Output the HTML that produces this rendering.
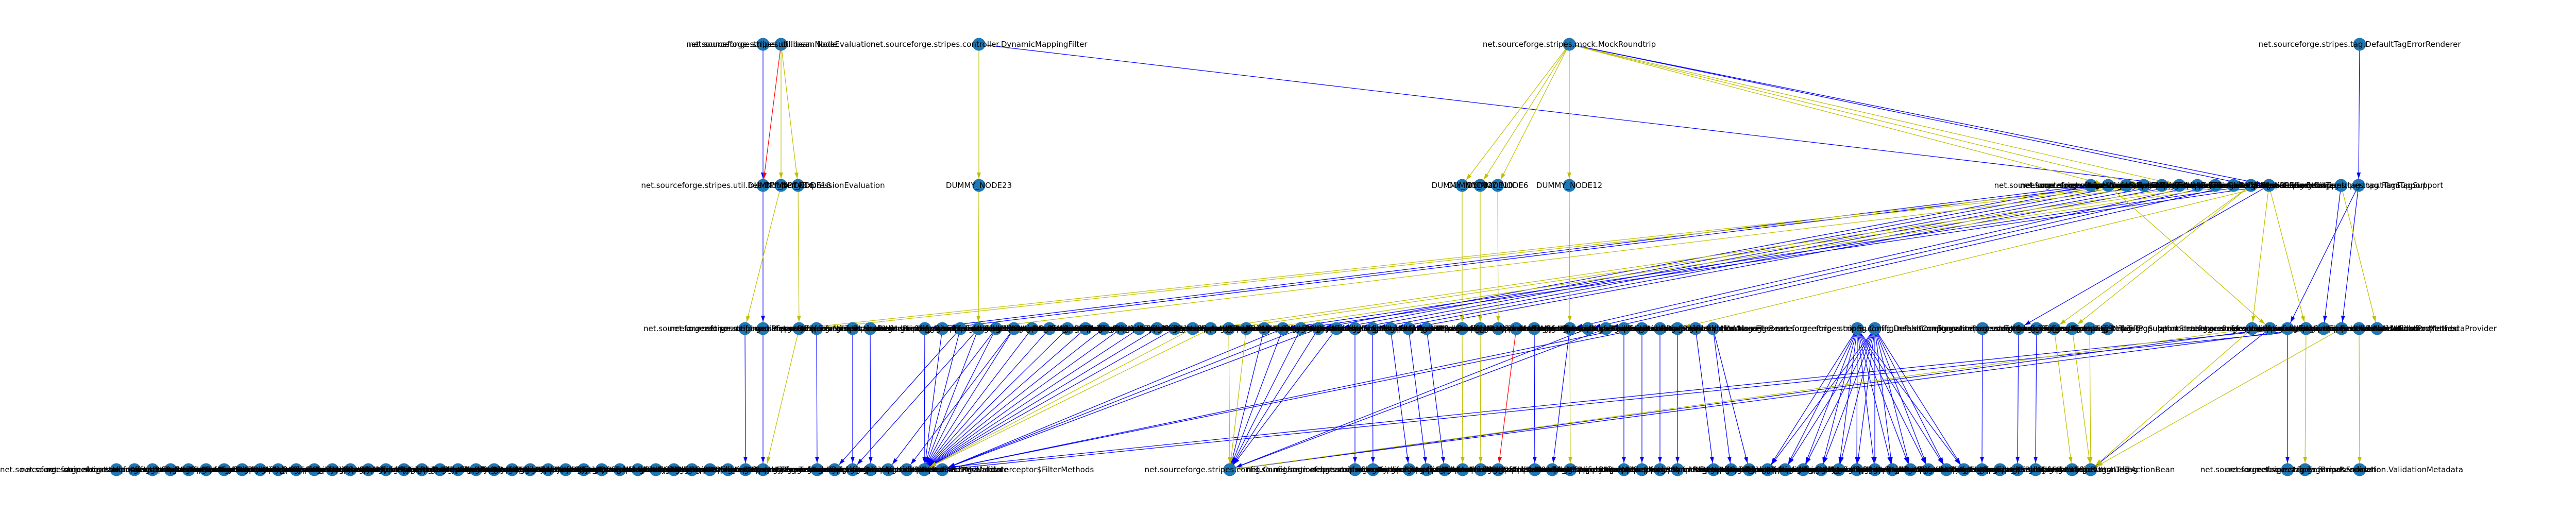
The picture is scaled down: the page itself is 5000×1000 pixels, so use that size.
<!DOCTYPE html>
<html><head><meta charset="utf-8"><style>
html,body{margin:0;padding:0;background:#fff;}
svg{display:block;}
text{font-family:"DejaVu Sans","Liberation Sans",sans-serif;font-size:15px;fill:#000;text-anchor:middle;dominant-baseline:central;}
</style></head><body>
<svg width="5000" height="1000" viewBox="0 0 5000 1000" xmlns="http://www.w3.org/2000/svg">
<defs>
<marker id="ab" markerUnits="userSpaceOnUse" markerWidth="30" markerHeight="12" refX="25" refY="4" orient="auto"><path d="M0,0 L12,4 L0,8 z" fill="#0000ff"/></marker>
<marker id="ay" markerUnits="userSpaceOnUse" markerWidth="30" markerHeight="12" refX="25" refY="4" orient="auto"><path d="M0,0 L12,4 L0,8 z" fill="#bfbf00"/></marker>
<marker id="ar" markerUnits="userSpaceOnUse" markerWidth="30" markerHeight="12" refX="25" refY="4" orient="auto"><path d="M0,0 L12,4 L0,8 z" fill="#ff0000"/></marker>
</defs>
<g stroke="#0000ff" stroke-width="1.2" marker-end="url(#ab)">
<line x1="1481" y1="86" x2="1481" y2="360"/>
<line x1="1900" y1="86" x2="4230" y2="360"/>
<line x1="3046" y1="86" x2="4369" y2="360"/>
<line x1="3046" y1="86" x2="4404" y2="360"/>
<line x1="4580" y1="86" x2="4578" y2="360"/>
<line x1="1481" y1="360" x2="1481" y2="638"/>
<line x1="4369" y1="360" x2="2490" y2="638"/>
<line x1="4404" y1="360" x2="2525" y2="638"/>
<line x1="4058" y1="360" x2="2559" y2="638"/>
<line x1="4092" y1="360" x2="2594" y2="638"/>
<line x1="4127" y1="360" x2="2630" y2="638"/>
<line x1="4161" y1="360" x2="2664" y2="638"/>
<line x1="4196" y1="360" x2="2699" y2="638"/>
<line x1="4230" y1="360" x2="2734" y2="638"/>
<line x1="4265" y1="360" x2="3047" y2="638"/>
<line x1="4300" y1="360" x2="3082" y2="638"/>
<line x1="4335" y1="360" x2="3117" y2="638"/>
<line x1="4404" y1="360" x2="3918" y2="638"/>
<line x1="4578" y1="360" x2="4545" y2="638"/>
<line x1="4578" y1="360" x2="4440" y2="638"/>
<line x1="4544" y1="360" x2="4510" y2="638"/>
<line x1="4058" y1="360" x2="1795" y2="638"/>
<line x1="4092" y1="360" x2="1829" y2="638"/>
<line x1="1446" y1="638" x2="1447" y2="912"/>
<line x1="1481" y1="638" x2="1481" y2="912"/>
<line x1="1585" y1="638" x2="1586" y2="912"/>
<line x1="1655" y1="638" x2="1655" y2="912"/>
<line x1="1689" y1="638" x2="1690" y2="912"/>
<line x1="1795" y1="638" x2="1794" y2="912"/>
<line x1="1864" y1="638" x2="1620" y2="912"/>
<line x1="1899" y1="638" x2="1655" y2="912"/>
<line x1="1829" y1="638" x2="1794" y2="912"/>
<line x1="1864" y1="638" x2="1794" y2="912"/>
<line x1="1899" y1="638" x2="1794" y2="912"/>
<line x1="1933" y1="638" x2="1794" y2="912"/>
<line x1="1968" y1="638" x2="1794" y2="912"/>
<line x1="2003" y1="638" x2="1794" y2="912"/>
<line x1="2037" y1="638" x2="1794" y2="912"/>
<line x1="2072" y1="638" x2="1794" y2="912"/>
<line x1="2107" y1="638" x2="1794" y2="912"/>
<line x1="2142" y1="638" x2="1794" y2="912"/>
<line x1="2176" y1="638" x2="1794" y2="912"/>
<line x1="2211" y1="638" x2="1794" y2="912"/>
<line x1="2246" y1="638" x2="1794" y2="912"/>
<line x1="2280" y1="638" x2="1794" y2="912"/>
<line x1="1933" y1="638" x2="1724" y2="912"/>
<line x1="1968" y1="638" x2="1760" y2="912"/>
<line x1="2490" y1="638" x2="1829" y2="912"/>
<line x1="2525" y1="638" x2="1829" y2="912"/>
<line x1="2559" y1="638" x2="1829" y2="912"/>
<line x1="2454" y1="638" x2="2387" y2="912"/>
<line x1="2490" y1="638" x2="2387" y2="912"/>
<line x1="2525" y1="638" x2="2387" y2="912"/>
<line x1="2559" y1="638" x2="2387" y2="912"/>
<line x1="2594" y1="638" x2="2387" y2="912"/>
<line x1="3082" y1="638" x2="2387" y2="912"/>
<line x1="3117" y1="638" x2="2387" y2="912"/>
<line x1="3152" y1="638" x2="1829" y2="912"/>
<line x1="3187" y1="638" x2="1829" y2="912"/>
<line x1="2630" y1="638" x2="2630" y2="912"/>
<line x1="2664" y1="638" x2="2665" y2="912"/>
<line x1="2699" y1="638" x2="2735" y2="912"/>
<line x1="2734" y1="638" x2="2769" y2="912"/>
<line x1="2769" y1="638" x2="2804" y2="912"/>
<line x1="2978" y1="638" x2="2979" y2="912"/>
<line x1="3047" y1="638" x2="3013" y2="912"/>
<line x1="3152" y1="638" x2="3152" y2="912"/>
<line x1="3187" y1="638" x2="3187" y2="912"/>
<line x1="3222" y1="638" x2="3222" y2="912"/>
<line x1="3256" y1="638" x2="3256" y2="912"/>
<line x1="3291" y1="638" x2="3326" y2="912"/>
<line x1="3325" y1="638" x2="3360" y2="912"/>
<line x1="3325" y1="638" x2="3395" y2="912"/>
<line x1="3605" y1="638" x2="3431" y2="912"/><line x1="3605" y1="638" x2="3465" y2="912"/><line x1="3605" y1="638" x2="3500" y2="912"/><line x1="3605" y1="638" x2="3535" y2="912"/><line x1="3605" y1="638" x2="3569" y2="912"/><line x1="3605" y1="638" x2="3604" y2="912"/><line x1="3605" y1="638" x2="3639" y2="912"/><line x1="3605" y1="638" x2="3673" y2="912"/><line x1="3605" y1="638" x2="3708" y2="912"/><line x1="3605" y1="638" x2="3743" y2="912"/><line x1="3605" y1="638" x2="3778" y2="912"/><line x1="3605" y1="638" x2="3812" y2="912"/>
<line x1="3639" y1="638" x2="3431" y2="912"/><line x1="3639" y1="638" x2="3465" y2="912"/><line x1="3639" y1="638" x2="3500" y2="912"/><line x1="3639" y1="638" x2="3535" y2="912"/><line x1="3639" y1="638" x2="3569" y2="912"/><line x1="3639" y1="638" x2="3604" y2="912"/><line x1="3639" y1="638" x2="3639" y2="912"/><line x1="3639" y1="638" x2="3673" y2="912"/><line x1="3639" y1="638" x2="3708" y2="912"/><line x1="3639" y1="638" x2="3743" y2="912"/><line x1="3639" y1="638" x2="3778" y2="912"/><line x1="3639" y1="638" x2="3812" y2="912"/>
<line x1="3848" y1="638" x2="3847" y2="912"/>
<line x1="3918" y1="638" x2="3916" y2="912"/>
<line x1="3953" y1="638" x2="3951" y2="912"/>
<line x1="4406" y1="638" x2="4058" y2="912"/>
<line x1="4440" y1="638" x2="4440" y2="912"/>
<line x1="4406" y1="638" x2="2387" y2="912"/>
<line x1="4476" y1="638" x2="2387" y2="912"/>
<line x1="4510" y1="638" x2="1829" y2="912"/>
<line x1="4440" y1="638" x2="1794" y2="912"/>
</g>
<g stroke="#bfbf00" stroke-width="1.2" marker-end="url(#ay)">
<line x1="1516" y1="86" x2="1516" y2="360"/>
<line x1="1516" y1="86" x2="1549" y2="360"/>
<line x1="1900" y1="86" x2="1900" y2="360"/>
<line x1="3046" y1="86" x2="2838" y2="360"/>
<line x1="3046" y1="86" x2="2873" y2="360"/>
<line x1="3046" y1="86" x2="2907" y2="360"/>
<line x1="3046" y1="86" x2="3046" y2="360"/>
<line x1="3046" y1="86" x2="4092" y2="360"/>
<line x1="3046" y1="86" x2="4161" y2="360"/>
<line x1="3046" y1="86" x2="4230" y2="360"/>
<line x1="1516" y1="360" x2="1446" y2="638"/>
<line x1="1549" y1="360" x2="1551" y2="638"/>
<line x1="1900" y1="360" x2="1899" y2="638"/>
<line x1="2838" y1="360" x2="2838" y2="638"/>
<line x1="2873" y1="360" x2="2873" y2="638"/>
<line x1="2907" y1="360" x2="2908" y2="638"/>
<line x1="3046" y1="360" x2="3047" y2="638"/>
<line x1="4127" y1="360" x2="1551" y2="638"/>
<line x1="4161" y1="360" x2="1585" y2="638"/>
<line x1="4196" y1="360" x2="1899" y2="638"/>
<line x1="4265" y1="360" x2="2350" y2="638"/>
<line x1="4300" y1="360" x2="2385" y2="638"/>
<line x1="4335" y1="360" x2="2454" y2="638"/>
<line x1="4404" y1="360" x2="3256" y2="638"/>
<line x1="4369" y1="360" x2="3987" y2="638"/>
<line x1="4369" y1="360" x2="4022" y2="638"/>
<line x1="4404" y1="360" x2="4371" y2="638"/>
<line x1="4404" y1="360" x2="4476" y2="638"/>
<line x1="4544" y1="360" x2="4614" y2="638"/>
<line x1="4092" y1="360" x2="4406" y2="638"/>
<line x1="1551" y1="638" x2="1486" y2="912"/>
<line x1="2315" y1="638" x2="1794" y2="912"/>
<line x1="2350" y1="638" x2="1794" y2="912"/>
<line x1="2385" y1="638" x2="2387" y2="912"/>
<line x1="2419" y1="638" x2="2387" y2="912"/>
<line x1="2838" y1="638" x2="2839" y2="912"/>
<line x1="2873" y1="638" x2="2874" y2="912"/>
<line x1="3047" y1="638" x2="3048" y2="912"/>
<line x1="3987" y1="638" x2="4022" y2="912"/>
<line x1="4022" y1="638" x2="4058" y2="912"/>
<line x1="4056" y1="638" x2="4058" y2="912"/>
<line x1="4371" y1="638" x2="4058" y2="912"/>
<line x1="4476" y1="638" x2="4474" y2="912"/>
<line x1="4579" y1="638" x2="4580" y2="912"/>
<line x1="4545" y1="638" x2="4058" y2="912"/>
<line x1="4371" y1="638" x2="2387" y2="912"/>
</g>
<g stroke="#ff0000" stroke-width="1.2" marker-end="url(#ar)">
<line x1="1516" y1="86" x2="1481" y2="360"/>
<line x1="2943" y1="638" x2="2908" y2="912"/>
</g>
<g fill="#1f77b4">
<circle cx="1481" cy="86" r="12.5"/><circle cx="1516" cy="86" r="12.5"/><circle cx="1900" cy="86" r="12.5"/><circle cx="3046" cy="86" r="12.5"/><circle cx="4580" cy="86" r="12.5"/>
<circle cx="1481" cy="360" r="12.5"/><circle cx="1516" cy="360" r="12.5"/><circle cx="1549" cy="360" r="12.5"/><circle cx="1900" cy="360" r="12.5"/><circle cx="2838" cy="360" r="12.5"/><circle cx="2873" cy="360" r="12.5"/><circle cx="2907" cy="360" r="12.5"/><circle cx="3046" cy="360" r="12.5"/>
<circle cx="4058" cy="360" r="12.5"/><circle cx="4092" cy="360" r="12.5"/><circle cx="4127" cy="360" r="12.5"/><circle cx="4161" cy="360" r="12.5"/><circle cx="4196" cy="360" r="12.5"/><circle cx="4230" cy="360" r="12.5"/><circle cx="4265" cy="360" r="12.5"/><circle cx="4300" cy="360" r="12.5"/><circle cx="4335" cy="360" r="12.5"/><circle cx="4369" cy="360" r="12.5"/><circle cx="4404" cy="360" r="12.5"/><circle cx="4544" cy="360" r="12.5"/><circle cx="4578" cy="360" r="12.5"/>
<circle cx="1446" cy="638" r="12.5"/><circle cx="1481" cy="638" r="12.5"/><circle cx="1551" cy="638" r="12.5"/><circle cx="1585" cy="638" r="12.5"/><circle cx="1655" cy="638" r="12.5"/><circle cx="1689" cy="638" r="12.5"/><circle cx="1795" cy="638" r="12.5"/><circle cx="1829" cy="638" r="12.5"/><circle cx="1864" cy="638" r="12.5"/><circle cx="1899" cy="638" r="12.5"/><circle cx="1933" cy="638" r="12.5"/><circle cx="1968" cy="638" r="12.5"/><circle cx="2003" cy="638" r="12.5"/><circle cx="2037" cy="638" r="12.5"/><circle cx="2072" cy="638" r="12.5"/><circle cx="2107" cy="638" r="12.5"/><circle cx="2142" cy="638" r="12.5"/><circle cx="2176" cy="638" r="12.5"/><circle cx="2211" cy="638" r="12.5"/><circle cx="2246" cy="638" r="12.5"/><circle cx="2280" cy="638" r="12.5"/><circle cx="2315" cy="638" r="12.5"/><circle cx="2350" cy="638" r="12.5"/><circle cx="2385" cy="638" r="12.5"/><circle cx="2419" cy="638" r="12.5"/><circle cx="2454" cy="638" r="12.5"/><circle cx="2490" cy="638" r="12.5"/><circle cx="2525" cy="638" r="12.5"/><circle cx="2559" cy="638" r="12.5"/><circle cx="2594" cy="638" r="12.5"/><circle cx="2630" cy="638" r="12.5"/><circle cx="2664" cy="638" r="12.5"/><circle cx="2699" cy="638" r="12.5"/><circle cx="2734" cy="638" r="12.5"/><circle cx="2769" cy="638" r="12.5"/><circle cx="2838" cy="638" r="12.5"/><circle cx="2873" cy="638" r="12.5"/><circle cx="2908" cy="638" r="12.5"/><circle cx="2943" cy="638" r="12.5"/><circle cx="2978" cy="638" r="12.5"/>
<circle cx="3047" cy="638" r="12.5"/><circle cx="3082" cy="638" r="12.5"/><circle cx="3117" cy="638" r="12.5"/><circle cx="3152" cy="638" r="12.5"/><circle cx="3187" cy="638" r="12.5"/><circle cx="3222" cy="638" r="12.5"/><circle cx="3256" cy="638" r="12.5"/><circle cx="3291" cy="638" r="12.5"/><circle cx="3325" cy="638" r="12.5"/><circle cx="3605" cy="638" r="12.5"/><circle cx="3639" cy="638" r="12.5"/><circle cx="3848" cy="638" r="12.5"/><circle cx="3918" cy="638" r="12.5"/><circle cx="3953" cy="638" r="12.5"/><circle cx="3987" cy="638" r="12.5"/><circle cx="4022" cy="638" r="12.5"/><circle cx="4056" cy="638" r="12.5"/><circle cx="4091" cy="638" r="12.5"/><circle cx="4371" cy="638" r="12.5"/><circle cx="4406" cy="638" r="12.5"/><circle cx="4440" cy="638" r="12.5"/><circle cx="4476" cy="638" r="12.5"/><circle cx="4510" cy="638" r="12.5"/><circle cx="4545" cy="638" r="12.5"/><circle cx="4579" cy="638" r="12.5"/><circle cx="4614" cy="638" r="12.5"/>
<circle cx="226" cy="912" r="12.5"/><circle cx="261" cy="912" r="12.5"/><circle cx="296" cy="912" r="12.5"/><circle cx="331" cy="912" r="12.5"/><circle cx="366" cy="912" r="12.5"/><circle cx="400" cy="912" r="12.5"/><circle cx="435" cy="912" r="12.5"/><circle cx="470" cy="912" r="12.5"/><circle cx="505" cy="912" r="12.5"/><circle cx="540" cy="912" r="12.5"/><circle cx="575" cy="912" r="12.5"/><circle cx="610" cy="912" r="12.5"/><circle cx="645" cy="912" r="12.5"/><circle cx="680" cy="912" r="12.5"/><circle cx="715" cy="912" r="12.5"/><circle cx="749" cy="912" r="12.5"/><circle cx="784" cy="912" r="12.5"/><circle cx="819" cy="912" r="12.5"/><circle cx="854" cy="912" r="12.5"/><circle cx="889" cy="912" r="12.5"/><circle cx="924" cy="912" r="12.5"/><circle cx="959" cy="912" r="12.5"/><circle cx="994" cy="912" r="12.5"/><circle cx="1029" cy="912" r="12.5"/><circle cx="1064" cy="912" r="12.5"/><circle cx="1098" cy="912" r="12.5"/><circle cx="1133" cy="912" r="12.5"/><circle cx="1168" cy="912" r="12.5"/><circle cx="1203" cy="912" r="12.5"/><circle cx="1238" cy="912" r="12.5"/><circle cx="1273" cy="912" r="12.5"/><circle cx="1308" cy="912" r="12.5"/><circle cx="1343" cy="912" r="12.5"/><circle cx="1378" cy="912" r="12.5"/><circle cx="1413" cy="912" r="12.5"/><circle cx="1447" cy="912" r="12.5"/><circle cx="1481" cy="912" r="12.5"/>
<circle cx="1586" cy="912" r="12.5"/><circle cx="1620" cy="912" r="12.5"/><circle cx="1655" cy="912" r="12.5"/><circle cx="1690" cy="912" r="12.5"/><circle cx="1724" cy="912" r="12.5"/><circle cx="1760" cy="912" r="12.5"/><circle cx="1794" cy="912" r="12.5"/><circle cx="1829" cy="912" r="12.5"/><circle cx="2387" cy="912" r="12.5"/><circle cx="2630" cy="912" r="12.5"/><circle cx="2665" cy="912" r="12.5"/><circle cx="2735" cy="912" r="12.5"/><circle cx="2769" cy="912" r="12.5"/><circle cx="2804" cy="912" r="12.5"/><circle cx="2839" cy="912" r="12.5"/><circle cx="2874" cy="912" r="12.5"/><circle cx="2908" cy="912" r="12.5"/><circle cx="2979" cy="912" r="12.5"/><circle cx="3013" cy="912" r="12.5"/><circle cx="3048" cy="912" r="12.5"/><circle cx="3152" cy="912" r="12.5"/><circle cx="3187" cy="912" r="12.5"/><circle cx="3222" cy="912" r="12.5"/><circle cx="3256" cy="912" r="12.5"/><circle cx="3326" cy="912" r="12.5"/><circle cx="3360" cy="912" r="12.5"/><circle cx="3395" cy="912" r="12.5"/>
<circle cx="3431" cy="912" r="12.5"/><circle cx="3465" cy="912" r="12.5"/><circle cx="3500" cy="912" r="12.5"/><circle cx="3535" cy="912" r="12.5"/><circle cx="3569" cy="912" r="12.5"/><circle cx="3604" cy="912" r="12.5"/><circle cx="3639" cy="912" r="12.5"/><circle cx="3673" cy="912" r="12.5"/><circle cx="3708" cy="912" r="12.5"/><circle cx="3743" cy="912" r="12.5"/><circle cx="3778" cy="912" r="12.5"/><circle cx="3812" cy="912" r="12.5"/><circle cx="3847" cy="912" r="12.5"/><circle cx="3882" cy="912" r="12.5"/><circle cx="3916" cy="912" r="12.5"/><circle cx="3951" cy="912" r="12.5"/><circle cx="4022" cy="912" r="12.5"/><circle cx="4058" cy="912" r="12.5"/><circle cx="4440" cy="912" r="12.5"/><circle cx="4474" cy="912" r="12.5"/><circle cx="4580" cy="912" r="12.5"/>
</g>
<g>
<text x="1481" y="86">net.sourceforge.stripes.util.bean.Node</text>
<text x="1516" y="86">net.sourceforge.stripes.util.bean.NodeEvaluation</text>
<text x="1900" y="86">net.sourceforge.stripes.controller.DynamicMappingFilter</text>
<text x="3046" y="86">net.sourceforge.stripes.mock.MockRoundtrip</text>
<text x="4580" y="86">net.sourceforge.stripes.tag.DefaultTagErrorRenderer</text>
</g>
<g>
<text x="1481" y="360">net.sourceforge.stripes.util.bean.PropertyExpressionEvaluation</text>
<text x="1516" y="360">DUMMY_NODE16</text>
<text x="1549" y="360">DUMMY_NODE18</text>
<text x="1900" y="360">DUMMY_NODE23</text>
<text x="2838" y="360">DUMMY_NODE2</text>
<text x="2873" y="360">DUMMY_NODE10</text>
<text x="2907" y="360">DUMMY_NODE6</text>
<text x="3046" y="360">DUMMY_NODE12</text>
<text x="4058" y="360">net.sourceforge.stripes.mock.MockServletContext</text>
<text x="4092" y="360">net.sourceforge.stripes.controller.StripesFilter</text>
<text x="4127" y="360">net.sourceforge.stripes.mock.MockHttpServletRequest</text>
<text x="4161" y="360">net.sourceforge.stripes.controller.DispatcherServlet</text>
<text x="4196" y="360">net.sourceforge.stripes.action.ActionBeanContext</text>
<text x="4230" y="360">net.sourceforge.stripes.controller.ExecutionContext</text>
<text x="4265" y="360">net.sourceforge.stripes.config.RuntimeConfiguration</text>
<text x="4300" y="360">net.sourceforge.stripes.validation.ValidationErrors</text>
<text x="4335" y="360">net.sourceforge.stripes.controller.StripesRequestWrapper</text>
<text x="4369" y="360">net.sourceforge.stripes.util.ReflectUtil</text>
<text x="4404" y="360">net.sourceforge.stripes.tag.FormTag</text>
<text x="4544" y="360">net.sourceforge.stripes.tag.InputTagSupport</text>
<text x="4578" y="360">net.sourceforge.stripes.tag.HtmlTagSupport</text>
</g>
<g>
<text x="1446" y="638">net.sourceforge.stripes.util.bean.PropertyExpression</text>
<text x="1481" y="638">net.sourceforge.stripes.util.bean.ParseException</text>
<text x="1551" y="638">net.sourceforge.stripes.util.bean.NodeEvaluation</text>
<text x="1585" y="638">net.sourceforge.stripes.action.ActionBean</text>
<text x="1655" y="638">net.sourceforge.stripes.action.UrlBinding</text>
<text x="1689" y="638">net.sourceforge.stripes.action.HandlesEvent</text>
<text x="1795" y="638">net.sourceforge.stripes.action.DefaultHandler</text>
<text x="1829" y="638">net.sourceforge.stripes.controller.LifecycleStage</text>
<text x="1864" y="638">net.sourceforge.stripes.controller.Interceptor</text>
<text x="1899" y="638">net.sourceforge.stripes.controller.ActionResolver</text>
<text x="1933" y="638">net.sourceforge.stripes.controller.NameBasedActionResolver</text>
<text x="1968" y="638">net.sourceforge.stripes.controller.ParameterName</text>
<text x="2003" y="638">net.sourceforge.stripes.controller.UrlBindingFactory</text>
<text x="2037" y="638">net.sourceforge.stripes.controller.UrlBindingParameter</text>
<text x="2072" y="638">net.sourceforge.stripes.exception.ExceptionHandler</text>
<text x="2107" y="638">net.sourceforge.stripes.format.FormatterFactory</text>
<text x="2142" y="638">net.sourceforge.stripes.localization.LocalePicker</text>
<text x="2176" y="638">net.sourceforge.stripes.validation.TypeConverterFactory</text>
<text x="2211" y="638">net.sourceforge.stripes.controller.ActionBeanPropertyBinder</text>
<text x="2246" y="638">net.sourceforge.stripes.config.BootstrapPropertyResolver</text>
<text x="2280" y="638">net.sourceforge.stripes.controller.multipart.MultipartWrapper</text>
<text x="2315" y="638">net.sourceforge.stripes.localization.LocalizationBundleFactory</text>
<text x="2350" y="638">net.sourceforge.stripes.tag.PopulationStrategy</text>
<text x="2385" y="638">net.sourceforge.stripes.tag.TagErrorRendererFactory</text>
<text x="2419" y="638">net.sourceforge.stripes.controller.ActionBeanContextFactory</text>
<text x="2454" y="638">net.sourceforge.stripes.util.UrlBuilder</text>
<text x="2490" y="638">net.sourceforge.stripes.util.CryptoUtil</text>
<text x="2525" y="638">net.sourceforge.stripes.util.Log</text>
<text x="2559" y="638">net.sourceforge.stripes.util.HtmlUtil</text>
<text x="2594" y="638">net.sourceforge.stripes.util.StringUtil</text>
<text x="2630" y="638">net.sourceforge.stripes.mock.MockHttpSession</text>
<text x="2664" y="638">net.sourceforge.stripes.mock.MockHttpServletResponse</text>
<text x="2699" y="638">net.sourceforge.stripes.mock.MockFilterConfig</text>
<text x="2734" y="638">net.sourceforge.stripes.mock.MockFilterChain</text>
<text x="2769" y="638">net.sourceforge.stripes.mock.MockRequestDispatcher</text>
<text x="2838" y="638">net.sourceforge.stripes.mock.MockServletConfig</text>
<text x="2873" y="638">net.sourceforge.stripes.mock.MockServletOutputStream</text>
<text x="2908" y="638">net.sourceforge.stripes.mock.MockAsyncContext</text>
<text x="2943" y="638">net.sourceforge.stripes.mock.MockHeaders</text>
<text x="2978" y="638">net.sourceforge.stripes.mock.MockServletInputStream</text>
<text x="3047" y="638">net.sourceforge.stripes.action.Resolution</text>
<text x="3082" y="638">net.sourceforge.stripes.action.RedirectResolution</text>
<text x="3117" y="638">net.sourceforge.stripes.action.ForwardResolution</text>
<text x="3152" y="638">net.sourceforge.stripes.action.StreamingResolution</text>
<text x="3187" y="638">net.sourceforge.stripes.action.OnwardResolution</text>
<text x="3222" y="638">net.sourceforge.stripes.action.LocalizableMessage</text>
<text x="3256" y="638">net.sourceforge.stripes.action.SimpleMessage</text>
<text x="3291" y="638">net.sourceforge.stripes.action.Message</text>
<text x="3325" y="638">net.sourceforge.stripes.action.FileBean</text>
<text x="3605" y="638">net.sourceforge.stripes.config.ConfigurableComponent</text>
<text x="3639" y="638">net.sourceforge.stripes.config.DefaultConfiguration</text>
<text x="3848" y="638">net.sourceforge.stripes.config.Configuration</text>
<text x="3918" y="638">net.sourceforge.stripes.tag.TagErrorRenderer</text>
<text x="3953" y="638">net.sourceforge.stripes.tag.ErrorsTag</text>
<text x="3987" y="638">net.sourceforge.stripes.tag.InputTextTag</text>
<text x="4022" y="638">net.sourceforge.stripes.tag.LinkTag</text>
<text x="4056" y="638">net.sourceforge.stripes.tag.StripesTagSupport</text>
<text x="4091" y="638">net.sourceforge.stripes.tag.DefaultPopulationStrategy</text>
<text x="4371" y="638">net.sourceforge.stripes.validation.ValidationError</text>
<text x="4406" y="638">net.sourceforge.stripes.validation.SimpleError</text>
<text x="4440" y="638">net.sourceforge.stripes.validation.LocalizableError</text>
<text x="4476" y="638">net.sourceforge.stripes.validation.ScopedLocalizableError</text>
<text x="4510" y="638">net.sourceforge.stripes.validation.Validate</text>
<text x="4545" y="638">net.sourceforge.stripes.validation.ValidateNestedProperties</text>
<text x="4579" y="638">net.sourceforge.stripes.validation.ValidationMethod</text>
<text x="4614" y="638">net.sourceforge.stripes.validation.ValidationMetadataProvider</text>
</g>
<g>
<text x="226" y="912">net.sourceforge.stripes.controller.ActionBeanContextFactory</text>
<text x="261" y="912">net.sourceforge.stripes.exception.DefaultExceptionHandler</text>
<text x="296" y="912">net.sourceforge.stripes.format.DefaultFormatterFactory</text>
<text x="331" y="912">net.sourceforge.stripes.format.DateFormatter</text>
<text x="366" y="912">net.sourceforge.stripes.format.NumberFormatter</text>
<text x="400" y="912">net.sourceforge.stripes.localization.DefaultLocalePicker</text>
<text x="435" y="912">net.sourceforge.stripes.validation.DateTypeConverter</text>
<text x="470" y="912">net.sourceforge.stripes.validation.IntegerTypeConverter</text>
<text x="505" y="912">net.sourceforge.stripes.validation.BooleanTypeConverter</text>
<text x="540" y="912">net.sourceforge.stripes.validation.EmailTypeConverter</text>
<text x="575" y="912">net.sourceforge.stripes.validation.LongTypeConverter</text>
<text x="610" y="912">net.sourceforge.stripes.validation.ShortTypeConverter</text>
<text x="645" y="912">net.sourceforge.stripes.validation.FloatTypeConverter</text>
<text x="680" y="912">net.sourceforge.stripes.validation.DoubleTypeConverter</text>
<text x="715" y="912">net.sourceforge.stripes.validation.ByteTypeConverter</text>
<text x="749" y="912">net.sourceforge.stripes.validation.EnumeratedTypeConverter</text>
<text x="784" y="912">net.sourceforge.stripes.validation.BigDecimalTypeConverter</text>
<text x="819" y="912">net.sourceforge.stripes.validation.BigIntegerTypeConverter</text>
<text x="854" y="912">net.sourceforge.stripes.validation.CharacterTypeConverter</text>
<text x="889" y="912">net.sourceforge.stripes.validation.PercentageTypeConverter</text>
<text x="924" y="912">net.sourceforge.stripes.validation.OneToManyTypeConverter</text>
<text x="959" y="912">net.sourceforge.stripes.validation.CreditCardTypeConverter</text>
<text x="994" y="912">net.sourceforge.stripes.validation.PhoneNumberTypeConverter</text>
<text x="1029" y="912">net.sourceforge.stripes.validation.ObjectTypeConverter</text>
<text x="1064" y="912">net.sourceforge.stripes.validation.StringTypeConverter</text>
<text x="1098" y="912">net.sourceforge.stripes.validation.expression.ExpressionValidator</text>
<text x="1133" y="912">net.sourceforge.stripes.validation.ValidationErrorHandler</text>
<text x="1168" y="912">net.sourceforge.stripes.validation.DefaultValidationMetadataProvider</text>
<text x="1203" y="912">net.sourceforge.stripes.validation.TypeConverter</text>
<text x="1238" y="912">net.sourceforge.stripes.validation.ValidationState</text>
<text x="1273" y="912">net.sourceforge.stripes.tag.DefaultTagErrorRendererFactory</text>
<text x="1308" y="912">net.sourceforge.stripes.tag.BeanFirstPopulationStrategy</text>
<text x="1343" y="912">net.sourceforge.stripes.tag.InputOptionsCollectionTag</text>
<text x="1378" y="912">net.sourceforge.stripes.tag.InputSelectTag</text>
<text x="1413" y="912">net.sourceforge.stripes.tag.InputHiddenTag</text>
<text x="1447" y="912">net.sourceforge.stripes.util.bean.PropertyExpressionEvaluation</text>
<text x="1481" y="912">net.sourceforge.stripes.util.bean.NodeType</text>
<text x="1586" y="912">net.sourceforge.stripes.action.Before</text>
<text x="1620" y="912">net.sourceforge.stripes.action.After</text>
<text x="1655" y="912">net.sourceforge.stripes.action.SessionScope</text>
<text x="1690" y="912">net.sourceforge.stripes.action.Wizard</text>
<text x="1724" y="912">net.sourceforge.stripes.action.StrictBinding</text>
<text x="1760" y="912">net.sourceforge.stripes.action.RedirectResolution</text>
<text x="1794" y="912">net.sourceforge.stripes.action.DontValidate</text>
<text x="1829" y="912">net.sourceforge.stripes.controller.BeforeAfterMethodInterceptor$FilterMethods</text>
<text x="2387" y="912">net.sourceforge.stripes.config.Configuration</text>
<text x="2630" y="912">net.sourceforge.stripes.controller.DynamicMappingFilter</text>
<text x="2665" y="912">net.sourceforge.stripes.controller.ExecutionContext</text>
<text x="2735" y="912">net.sourceforge.stripes.controller.StripesConstants</text>
<text x="2769" y="912">net.sourceforge.stripes.controller.FlashScope</text>
<text x="2804" y="912">net.sourceforge.stripes.controller.AnnotatedClassActionResolver</text>
<text x="2839" y="912">net.sourceforge.stripes.controller.HttpCacheInterceptor</text>
<text x="2874" y="912">net.sourceforge.stripes.controller.UrlBinding</text>
<text x="2908" y="912">net.sourceforge.stripes.controller.DefaultActionBeanPropertyBinder</text>
<text x="2979" y="912">net.sourceforge.stripes.controller.DispatcherHelper</text>
<text x="3013" y="912">net.sourceforge.stripes.controller.StripesRequestWrapper</text>
<text x="3048" y="912">net.sourceforge.stripes.controller.BeforeAfterMethodInterceptor</text>
<text x="3152" y="912">net.sourceforge.stripes.exception.StripesServletException</text>
<text x="3187" y="912">net.sourceforge.stripes.exception.ActionBeanNotFoundException</text>
<text x="3222" y="912">net.sourceforge.stripes.exception.SourcePageNotFoundException</text>
<text x="3256" y="912">net.sourceforge.stripes.exception.UrlBindingConflictException</text>
<text x="3326" y="912">net.sourceforge.stripes.exception.StripesJspException</text>
<text x="3360" y="912">net.sourceforge.stripes.format.Formatter</text>
<text x="3395" y="912">net.sourceforge.stripes.format.EnumFormatter</text>
<text x="3431" y="912">net.sourceforge.stripes.config.TargetTypes</text>
<text x="3465" y="912">net.sourceforge.stripes.config.DontAutoLoad</text>
<text x="3500" y="912">net.sourceforge.stripes.config.ConfigurableComponent</text>
<text x="3535" y="912">net.sourceforge.stripes.config.BootstrapPropertyResolver</text>
<text x="3569" y="912">net.sourceforge.stripes.config.RuntimeConfiguration</text>
<text x="3604" y="912">net.sourceforge.stripes.config.DefaultConfiguration</text>
<text x="3639" y="912">net.sourceforge.stripes.controller.ObjectFactory</text>
<text x="3673" y="912">net.sourceforge.stripes.controller.DefaultObjectFactory</text>
<text x="3708" y="912">net.sourceforge.stripes.controller.Interceptors</text>
<text x="3743" y="912">net.sourceforge.stripes.controller.Intercepts</text>
<text x="3778" y="912">net.sourceforge.stripes.localization.DefaultLocalizationBundleFactory</text>
<text x="3812" y="912">net.sourceforge.stripes.tag.TagErrorRenderer</text>
<text x="3847" y="912">net.sourceforge.stripes.tag.ErrorsTag</text>
<text x="3882" y="912">net.sourceforge.stripes.tag.FieldMetadataTag</text>
<text x="3916" y="912">net.sourceforge.stripes.tag.InputCheckBoxTag</text>
<text x="3951" y="912">net.sourceforge.stripes.tag.InputRadioButtonTag</text>
<text x="4022" y="912">net.sourceforge.stripes.tag.UrlTag</text>
<text x="4058" y="912">net.sourceforge.stripes.test.TestActionBean</text>
<text x="4440" y="912">net.sourceforge.stripes.tag.TagErrorRenderer</text>
<text x="4474" y="912">net.sourceforge.stripes.format.Formatter</text>
<text x="4580" y="912">net.sourceforge.stripes.validation.ValidationMetadata</text>
</g>
</svg>
</body></html>
